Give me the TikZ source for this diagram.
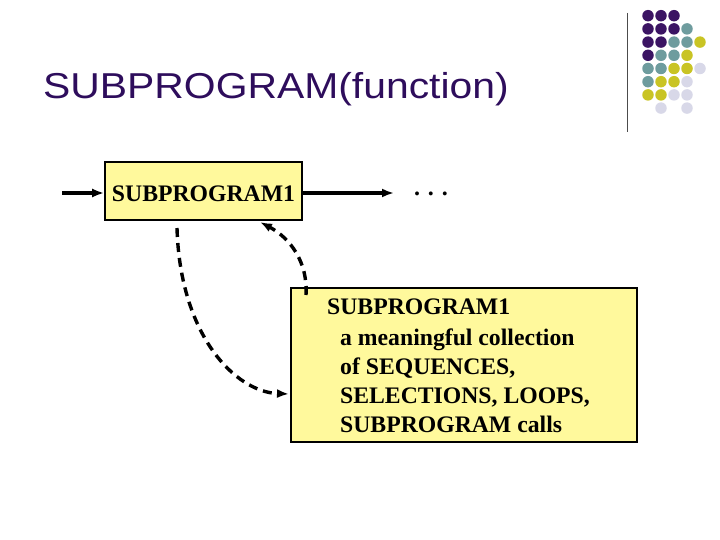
\documentclass[tikz,border=0pt]{standalone}
\usepackage{fontspec}
\setmainfont{Liberation Serif}
\newfontfamily\titlefont{Liberation Sans}
\usetikzlibrary{arrows.meta}
\definecolor{dpurple}{HTML}{3B1463}
\definecolor{dteal}{HTML}{6E9C9E}
\definecolor{dyellow}{HTML}{C9C424}
\definecolor{dlav}{HTML}{D8D8E8}
\definecolor{titlecol}{HTML}{2E0D5C}
\definecolor{boxfill}{HTML}{FFF99C}
\tikzset{
  box/.style={draw=black, line width=1.6pt, fill=boxfill, inner sep=0pt},
  flow/.style={line width=3.4pt, -{Latex[length=12pt,width=9pt]}},
  dflow/.style={line width=3.4pt, dash pattern=on 9pt off 6pt, -{Latex[length=12pt,width=9pt]}},
  dot/.style={circle, inner sep=0pt, minimum size=11.5pt},
}
\begin{document}
\begin{tikzpicture}[x=1pt,y=-1pt]
\useasboundingbox (0,0) rectangle (720,540);
% title
\node[anchor=west, text=titlecol, font=\titlefont\fontsize{36}{40}\selectfont, xscale=1.135, inner sep=0pt] (title) at (43,89) {SUBPROGRAM(function)};
% decorative line
\draw[line width=0.8pt, black!70] (627,13) -- (627,132);
% dots: row/column/colour
\foreach \r/\i/\col in {
  0/0/dpurple,0/1/dpurple,0/2/dpurple,
  1/0/dpurple,1/1/dpurple,1/2/dpurple,1/3/dteal,
  2/0/dpurple,2/1/dpurple,2/2/dteal,2/3/dteal,2/4/dyellow,
  3/0/dpurple,3/1/dteal,3/2/dteal,3/3/dyellow,
  4/0/dteal,4/1/dteal,4/2/dyellow,4/3/dyellow,4/4/dlav,
  5/0/dteal,5/1/dyellow,5/2/dyellow,5/3/dlav,
  6/0/dyellow,6/1/dyellow,6/2/dlav,6/3/dlav,
  7/1/dlav,7/3/dlav}{
  \node[dot, fill=\col] (d\r\i) at ({648+13*\i},{15.7+13.2*\r}) {};
}
% box 1
\node[box, minimum width=197pt, minimum height=58pt] (b1) at (203.5,191) {};
\node[font=\bfseries\fontsize{23.7}{26}\selectfont, inner sep=0pt] (t1) at (203.5,194) {SUBPROGRAM1};
\coordinate (in) at (62,193);
\coordinate (out) at (394,193);
\draw[flow] (in) -- (in -| b1.west);
\draw[flow] (out -| b1.east) -- (out);
\node[font=\bfseries\fontsize{24}{26}\selectfont, inner sep=0pt] (dots) at (431,194) {. . .};
% box 2
\node[box, minimum width=346pt, minimum height=154pt] (b2) at (464,365) {};
\node[anchor=north west, inner sep=0pt, align=left, font=\bfseries\fontsize{23.7}{29}\selectfont] (t2) at (327,299) {SUBPROGRAM1\\[2pt]\hspace*{13pt}a meaningful collection\\\hspace*{13pt}of SEQUENCES,\\\hspace*{13pt}SELECTIONS, LOOPS,\\\hspace*{13pt}SUBPROGRAM calls};
% dashed arcs
\coordinate (s1) at (177,228);
\coordinate (e1) at (289,394);
\draw[dflow] (s1) .. controls (180,335) and (235,392) .. (e1);
\coordinate (s2) at (306,295);
\coordinate (e2) at (260,222);
\draw[dflow] (s2) .. controls (308,262) and (290,238) .. (e2);
\end{tikzpicture}
\end{document}
